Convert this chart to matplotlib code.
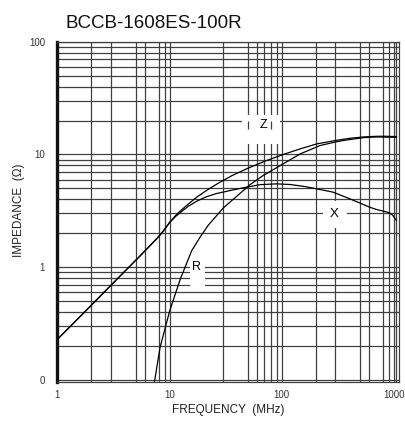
import matplotlib
matplotlib.use("Agg")
import matplotlib.pyplot as plt
from matplotlib.patches import Rectangle

plt.rcParams['font.family'] = ['Liberation Sans', 'DejaVu Sans']

# ---- data ----
f_z = [1, 2, 3.5, 5.4, 7.7, 8.8, 10, 11.2, 12.4, 14.5, 17.4, 22, 28, 36, 48.5, 70, 103, 145, 204, 300, 400, 531, 700, 850, 1050]
z_val = [0.23, 0.46, 0.81, 1.25, 1.8, 2.1, 2.5, 2.85, 3.15, 3.6, 4.18, 4.9, 5.67, 6.5, 7.46, 8.7, 10.0, 11.2, 12.4, 13.3, 13.9, 14.3, 14.5, 14.5, 14.4]

f_x = [1, 2, 3.5, 5.4, 7.7, 8.8, 10, 11.2, 12.4, 14.5, 17.4, 21, 26, 35, 45, 64, 90, 118, 160, 204, 287, 404, 500, 610, 700, 800, 900, 970, 1050]
x_val = [0.23, 0.46, 0.81, 1.25, 1.8, 2.1, 2.5, 2.8, 3.05, 3.45, 3.85, 4.2, 4.5, 4.8, 5.06, 5.4, 5.49, 5.42, 5.2, 4.96, 4.63, 4.04, 3.7, 3.4, 3.25, 3.15, 3.05, 2.9, 2.6]

f_r = [7.3, 8.2, 10, 12.4, 15.7, 18.6, 22, 30, 40, 52, 68, 103, 145, 219, 300, 352, 531, 700, 1050]
r_val = [0.095, 0.194, 0.41, 0.78, 1.40, 1.84, 2.35, 3.35, 4.3, 5.4, 6.5, 8.27, 10.1, 12.0, 12.9, 13.3, 14.1, 14.3, 14.2]

x_grid = [2, 3, 5, 6, 8, 9, 10, 30, 50, 60, 70, 80, 90, 100, 200, 300, 500, 600, 800, 900, 1000, 1050]
y_grid = [m * d for d in (0.1, 1, 10) for m in range(1, 10)] + [100]

x_ticks = [1, 10, 100, 1000]
x_ticklabels = ['1', '10', '100', '1000']
y_ticks = [0.1, 1, 10, 100]
y_ticklabels = ['0', '1', '10', '100']

title = 'BCCB-1608ES-100R'
xlabel = 'FREQUENCY  (MHz)'
ylabel = 'IMPEDANCE  (Ω)'

# ---- figure ----
fig = plt.figure(figsize=(4.06, 4.21), dpi=100)
ax = fig.add_axes([57.5 / 406, (421 - 382.3) / 421, 341.2 / 406, 340.6 / 421])
ax.set_xscale('log')
ax.set_yscale('log')
ax.set_xlim(1, 1100)
ax.set_ylim(0.0955, 100)

gc = '#404040'
for xv in x_grid:
    ax.axvline(xv, color=gc, lw=0.9, zorder=1)
for yv in y_grid:
    ax.axhline(yv, color=gc, lw=0.9, zorder=1)

# label boxes (white background)
for (x0, x1, y0, y1) in [(43.8, 96, 12.5, 22.2), (232, 380, 2.25, 3.9), (15.2, 20.6, 0.645, 1.19)]:
    ax.add_patch(Rectangle((x0, y0), x1 - x0, y1 - y0, facecolor='white', edgecolor='none', zorder=2))
ax.vlines([50, 80], 16.7, 20.0, color=gc, lw=0.9, zorder=3)

ax.plot(f_z, z_val, color='black', lw=0.9, zorder=4)
ax.plot(f_x, x_val, color='black', lw=0.9, zorder=4)
ax.plot(f_r, r_val, color='black', lw=0.9, zorder=4)

ax.text(67.9, 18.1, 'Z', fontsize=9, ha='center', va='center', zorder=5)
ax.text(291.6, 2.99, 'X', fontsize=9.5, ha='center', va='center', zorder=5)
ax.text(17.2, 1.01, 'R', fontsize=9, ha='center', va='center', zorder=5)

for side in ['top', 'right', 'bottom']:
    ax.spines[side].set_linewidth(0.9)
    ax.spines[side].set_color(gc)
ax.spines['left'].set_linewidth(2.4)
ax.spines['left'].set_color('#111111')

ax.set_xticks(x_ticks)
ax.set_xticklabels(x_ticklabels)
ax.set_yticks(y_ticks)
ax.set_yticklabels(y_ticklabels)
ax.minorticks_off()
ax.tick_params(axis='both', length=0, labelsize=7, colors='#333333')
ax.tick_params(axis='x', pad=5.5)
ax.tick_params(axis='y', pad=9)

ax.set_xlabel(xlabel, fontsize=8.5, color='#222222')
ax.set_ylabel(ylabel, fontsize=8.5, color='#222222')
ax.xaxis.set_label_coords(0.5, (382.3 - 404) / 340.6)
ax.yaxis.set_label_coords((25 - 57.5) / 341.2, (382.3 - 210) / 340.6)
fig.text(66 / 406, 1 - 23 / 421, title, fontsize=13.5, ha='left', va='center', color='#111111')

fig.savefig('out.png', dpi=100)
